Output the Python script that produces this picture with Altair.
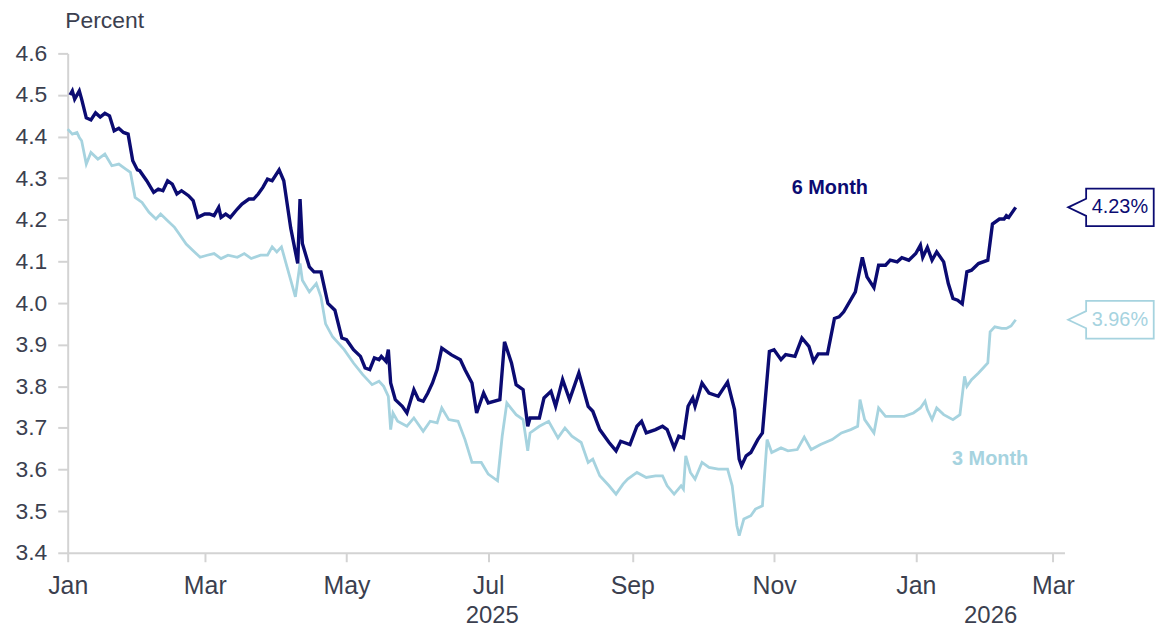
import altair as alt
import pandas as pd

# ---------------- data ----------------
series_names = ["6 Month", "3 Month"]
series_colors = ["#0b0b72", "#a6d3df"]

dates_6m = [
"2025-01-02","2025-01-03","2025-01-04","2025-01-06","2025-01-07","2025-01-09","2025-01-11","2025-01-13","2025-01-15","2025-01-17",
"2025-01-19","2025-01-21","2025-01-23","2025-01-25","2025-01-27","2025-01-29","2025-01-31","2025-02-01","2025-02-04","2025-02-07",
"2025-02-09","2025-02-11","2025-02-13","2025-02-15","2025-02-17","2025-02-19","2025-02-22","2025-02-24","2025-02-26","2025-03-01",
"2025-03-03","2025-03-05","2025-03-07","2025-03-08","2025-03-10","2025-03-12","2025-03-15","2025-03-17","2025-03-20","2025-03-22",
"2025-03-24","2025-03-26","2025-03-28","2025-03-30","2025-04-02","2025-04-04","2025-04-07","2025-04-10","2025-04-11","2025-04-12",
"2025-04-15","2025-04-17","2025-04-20","2025-04-23","2025-04-26","2025-04-29","2025-05-01","2025-05-04","2025-05-07","2025-05-09",
"2025-05-11","2025-05-13","2025-05-15","2025-05-16","2025-05-18","2025-05-19","2025-05-20","2025-05-22","2025-05-25","2025-05-27",
"2025-05-30","2025-06-01","2025-06-03","2025-06-05","2025-06-07","2025-06-09","2025-06-11","2025-06-15","2025-06-19","2025-06-21",
"2025-06-24","2025-06-26","2025-06-29","2025-07-01","2025-07-06","2025-07-08","2025-07-11","2025-07-13","2025-07-16","2025-07-18",
"2025-07-19","2025-07-23","2025-07-25","2025-07-28","2025-07-30","2025-08-02","2025-08-05","2025-08-09","2025-08-13","2025-08-15",
"2025-08-18","2025-08-22","2025-08-25","2025-08-27","2025-08-31","2025-09-03","2025-09-05","2025-09-07","2025-09-11","2025-09-14",
"2025-09-16","2025-09-19","2025-09-21","2025-09-23","2025-09-25","2025-09-27","2025-09-28","2025-10-01","2025-10-04","2025-10-08",
"2025-10-12","2025-10-15","2025-10-17","2025-10-18","2025-10-20","2025-10-22","2025-10-25","2025-10-27","2025-10-30","2025-11-01",
"2025-11-04","2025-11-06","2025-11-10","2025-11-13","2025-11-16","2025-11-18","2025-11-20","2025-11-24","2025-11-27","2025-11-29",
"2025-12-01","2025-12-06","2025-12-07","2025-12-09","2025-12-11","2025-12-14","2025-12-16","2025-12-19","2025-12-21","2025-12-24",
"2025-12-26","2025-12-29","2026-01-01","2026-01-03","2026-01-04","2026-01-06","2026-01-08","2026-01-10","2026-01-13","2026-01-15",
"2026-01-17","2026-01-19","2026-01-21","2026-01-23","2026-01-25","2026-01-28","2026-02-01","2026-02-03","2026-02-06","2026-02-08",
"2026-02-09","2026-02-10","2026-02-13"]

vals_6m = [
4.50,4.51,4.49,4.51,4.49,4.445,4.44,4.457,4.447,4.456,
4.45,4.414,4.42,4.41,4.406,4.342,4.32,4.318,4.294,4.266,
4.274,4.27,4.294,4.286,4.262,4.27,4.258,4.246,4.206,4.214,
4.214,4.21,4.23,4.206,4.214,4.206,4.226,4.238,4.25,4.25,
4.262,4.278,4.298,4.294,4.32,4.294,4.18,4.095,4.25,4.143,
4.087,4.075,4.075,3.999,3.983,3.916,3.912,3.888,3.872,3.844,
3.84,3.868,3.864,3.872,3.86,3.888,3.808,3.768,3.752,3.736,
3.792,3.768,3.764,3.784,3.808,3.84,3.892,3.876,3.864,3.84,
3.808,3.736,3.784,3.76,3.768,3.907,3.856,3.804,3.792,3.704,
3.724,3.724,3.772,3.788,3.752,3.816,3.768,3.832,3.752,3.74,
3.696,3.665,3.645,3.668,3.66,3.704,3.716,3.688,3.696,3.704,
3.696,3.652,3.68,3.676,3.752,3.772,3.752,3.808,3.784,3.776,
3.81,3.744,3.625,3.609,3.633,3.641,3.672,3.688,3.884,3.888,
3.864,3.876,3.872,3.916,3.896,3.86,3.878,3.878,3.963,3.967,
3.979,4.027,4.055,4.11,4.063,4.037,4.091,4.091,4.103,4.099,
4.109,4.103,4.119,4.139,4.11,4.134,4.103,4.123,4.099,4.047,
4.011,4.007,3.998,4.075,4.079,4.095,4.103,4.19,4.202,4.202,
4.21,4.206,4.23]

dates_3m = [
"2025-01-01","2025-01-03","2025-01-05","2025-01-06","2025-01-07","2025-01-09","2025-01-11","2025-01-14","2025-01-17","2025-01-20",
"2025-01-23","2025-01-26","2025-01-28","2025-01-30","2025-02-02","2025-02-05","2025-02-08","2025-02-10","2025-02-13","2025-02-16",
"2025-02-18","2025-02-21","2025-02-24","2025-02-27","2025-03-02","2025-03-05","2025-03-08","2025-03-11","2025-03-15","2025-03-18",
"2025-03-21","2025-03-25","2025-03-28","2025-03-30","2025-04-01","2025-04-03","2025-04-05","2025-04-07","2025-04-09","2025-04-11",
"2025-04-12","2025-04-15","2025-04-18","2025-04-20","2025-04-22","2025-04-25","2025-04-30","2025-05-04","2025-05-08","2025-05-12",
"2025-05-15","2025-05-17","2025-05-19","2025-05-20","2025-05-21","2025-05-23","2025-05-27","2025-05-30","2025-06-03","2025-06-06",
"2025-06-09","2025-06-11","2025-06-14","2025-06-18","2025-06-21","2025-06-24","2025-06-28","2025-07-01","2025-07-05","2025-07-07",
"2025-07-09","2025-07-13","2025-07-16","2025-07-18","2025-07-19","2025-07-23","2025-07-27","2025-07-31","2025-08-03","2025-08-06",
"2025-08-10","2025-08-13","2025-08-15","2025-08-18","2025-08-22","2025-08-25","2025-08-28","2025-08-30","2025-09-03","2025-09-07",
"2025-09-11","2025-09-14","2025-09-16","2025-09-19","2025-09-22","2025-09-23","2025-09-24","2025-09-26","2025-09-28","2025-10-01",
"2025-10-04","2025-10-08","2025-10-12","2025-10-14","2025-10-16","2025-10-17","2025-10-19","2025-10-22","2025-10-24","2025-10-27",
"2025-10-29","2025-10-31","2025-11-04","2025-11-07","2025-11-11","2025-11-14","2025-11-17","2025-11-21","2025-11-26","2025-11-30",
"2025-12-04","2025-12-07","2025-12-08","2025-12-10","2025-12-14","2025-12-16","2025-12-19","2025-12-23","2025-12-27","2025-12-31",
"2026-01-03","2026-01-05","2026-01-06","2026-01-08","2026-01-10","2026-01-13","2026-01-17","2026-01-20","2026-01-22","2026-01-23",
"2026-01-25","2026-01-28","2026-01-30","2026-02-01","2026-02-02","2026-02-04","2026-02-07","2026-02-09","2026-02-11","2026-02-13"]

vals_3m = [
4.418,4.406,4.41,4.398,4.39,4.334,4.362,4.346,4.358,4.33,
4.334,4.322,4.314,4.254,4.242,4.218,4.202,4.214,4.198,4.182,
4.166,4.142,4.126,4.11,4.115,4.119,4.107,4.115,4.11,4.119,
4.107,4.115,4.115,4.135,4.123,4.135,4.095,4.055,4.015,4.095,
4.055,4.027,4.047,4.015,3.95,3.919,3.888,3.856,3.828,3.804,
3.812,3.8,3.776,3.696,3.736,3.716,3.704,3.724,3.692,3.716,
3.712,3.748,3.72,3.716,3.672,3.617,3.617,3.589,3.573,3.68,
3.76,3.732,3.72,3.645,3.688,3.704,3.716,3.676,3.7,3.68,
3.665,3.617,3.625,3.585,3.561,3.541,3.565,3.577,3.593,3.581,
3.585,3.585,3.561,3.541,3.561,3.553,3.633,3.593,3.577,3.617,
3.605,3.601,3.601,3.561,3.465,3.441,3.481,3.489,3.505,3.513,
3.672,3.641,3.652,3.645,3.648,3.678,3.648,3.66,3.672,3.688,
3.696,3.704,3.768,3.72,3.688,3.748,3.728,3.728,3.728,3.736,
3.748,3.764,3.744,3.72,3.748,3.732,3.72,3.732,3.824,3.8,
3.816,3.832,3.844,3.856,3.931,3.943,3.939,3.939,3.945,3.96]

x_tick_dates = ["2025-01-01", "2025-03-01", "2025-05-01", "2025-07-01",
                "2025-09-01", "2025-11-01", "2026-01-01", "2026-03-01"]
x_domain = ["2025-01-01", "2026-03-06"]
y_ticks = [3.4, 3.5, 3.6, 3.7, 3.8, 3.9, 4.0, 4.1, 4.2, 4.3, 4.4, 4.5, 4.6]
year_starts = ["2025-01-01", "2026-01-01"]

# series-name label anchors (date, value)
name_label_dates = ["2025-11-25", "2026-02-02"]
name_label_vals = [4.277, 3.625]

# ---------------- build tables ----------------
FONT = "Liberation Sans"
LABEL_COLOR = "#3b3f4f"
AXIS_GRAY = "#d3d3d3"
W, H = 1002, 502

def ms(s):
    return int(pd.Timestamp(s, tz="UTC").value // 10**6)

df6 = pd.DataFrame({"date": dates_6m, "value": vals_6m, "series": series_names[0]})
df3 = pd.DataFrame({"date": dates_3m, "value": vals_3m, "series": series_names[1]})

# callouts: at the last point of each series, pushed to the right of the plot
callout_shift = pd.Timedelta(days=41)
callouts = pd.DataFrame({
    "date": [(pd.Timestamp(d[-1]) + callout_shift).strftime("%Y-%m-%d") for d in (dates_6m, dates_3m)],
    "value": [vals_6m[-1], vals_3m[-1]],
    "series": series_names,
    "label": [f"{vals_6m[-1]:.2f}%", f"{vals_3m[-1]:.2f}%"],
})

names = pd.DataFrame({"date": name_label_dates, "value": name_label_vals,
                      "series": series_names, "label": series_names})

# year labels centred on each year's span inside the axis domain
y_edges = [pd.Timestamp(year_starts[0]), pd.Timestamp(year_starts[1]), pd.Timestamp(x_domain[1])]
year_mids = [y_edges[i] + (y_edges[i + 1] - y_edges[i]) / 2 for i in range(2)]
years = pd.DataFrame({"date": [m.strftime("%Y-%m-%dT%H:%M:%S") for m in year_mids]})

# ---------------- scales / axes ----------------
xscale = alt.Scale(type="utc", domain=[ms(x_domain[0]), ms(x_domain[1])])
yscale = alt.Scale(domain=[3.4, 4.6], nice=False, zero=False)
color_scale = alt.Scale(domain=series_names, range=series_colors)

x_axis = alt.Axis(
    orient="bottom",
    values=[ms(d) for d in x_tick_dates],
    labelExpr="utcFormat(datum.value, '%b')",
    title=None, grid=False,
    domainColor=AXIS_GRAY, domainWidth=2,
    tickColor=AXIS_GRAY, tickWidth=2, tickSize=9,
    labelFont=FONT, labelFontSize=25, labelColor=LABEL_COLOR,
    labelPadding=12, labelFlush=False, labelOverlap=False,
)
year_axis = alt.Axis(
    orient="bottom",
    values=[ms(m.strftime("%Y-%m-%dT%H:%M:%S")) for m in year_mids],
    labelExpr="utcFormat(datum.value, '%Y')",
    title=None, grid=False, domain=False, ticks=False,
    labelFont=FONT, labelFontSize=24, labelColor=LABEL_COLOR,
    labelPadding=14, offset=37, labelFlush=False, labelOverlap=False,
)
y_axis = alt.Axis(
    values=y_ticks, format=".1f",
    title="Percent", titleAngle=0, titleAlign="left", titleBaseline="alphabetic",
    titleX=-3, titleY=-26, titleFont=FONT, titleFontSize=23,
    titleFontWeight="normal", titleColor=LABEL_COLOR,
    grid=False,
    domainColor=AXIS_GRAY, domainWidth=2,
    tickColor=AXIS_GRAY, tickWidth=2, tickSize=10,
    labelFont=FONT, labelFontSize=23, labelColor=LABEL_COLOR, labelPadding=11,
)

Y = alt.Y("value:Q", scale=yscale, axis=y_axis)

def X(axis=None):
    return alt.X("date:T", scale=xscale, axis=axis)

line3 = alt.Chart(df3).mark_line(color=series_colors[1], strokeWidth=2.8).encode(x=X(x_axis), y=Y)
line6 = alt.Chart(df6).mark_line(color=series_colors[0], strokeWidth=3.4).encode(x=X(), y=Y)

year_layer = alt.Chart(years).mark_point(opacity=0).encode(x=X(year_axis))

callout_path = "M -0.58,-0.44 L 1,-0.44 L 1,0.44 L -0.58,0.44 L -0.58,0.2 L -1,0 L -0.58,-0.2 Z"
callout_box = alt.Chart(callouts).mark_point(
    shape=callout_path, size=86 * 86, filled=True, fill="white",
    strokeWidth=1.8, opacity=1,
).encode(x=X(), y=Y, stroke=alt.Stroke("series:N", scale=color_scale, legend=None))
callout_text = alt.Chart(callouts).mark_text(
    dx=9, font=FONT, fontSize=20, align="center", baseline="middle",
).encode(x=X(), y=Y, text="label:N",
         color=alt.Color("series:N", scale=color_scale, legend=None))

name_text = alt.Chart(names).mark_text(
    font=FONT, fontSize=20, fontWeight="bold", align="center", baseline="middle",
).encode(x=X(), y=Y, text="label:N",
         color=alt.Color("series:N", scale=color_scale, legend=None))

chart = alt.layer(
    line3, line6, year_layer, callout_box, callout_text, name_text
).resolve_axis(x="independent").properties(
    width=W, height=H,
    autosize=alt.AutoSizeParams(type="none"),
    padding={"left": 60, "top": 44, "right": 92, "bottom": 75},
).configure(background="white", view=alt.ViewConfig(stroke=None))

chart.save("out.html", embed_options={"renderer": "svg", "actions": False})
